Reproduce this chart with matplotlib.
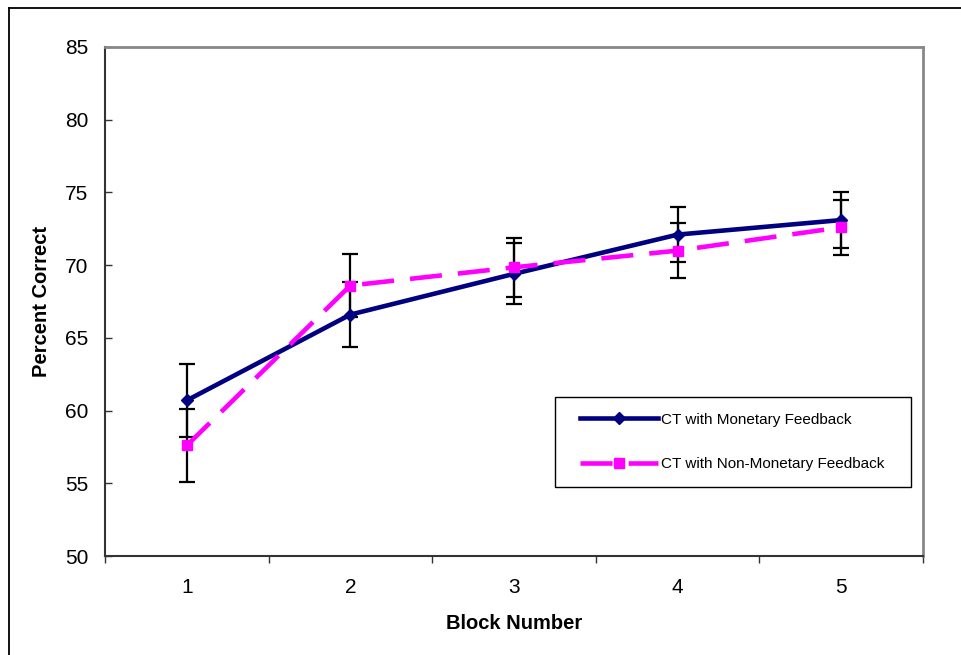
import matplotlib
matplotlib.use("Agg")
import matplotlib.pyplot as plt
from matplotlib.lines import Line2D
from matplotlib.patches import Rectangle

plt.rcParams['font.family'] = ['Liberation Sans', 'DejaVu Sans']

blocks = [1, 2, 3, 4, 5]
monetary = [60.7, 66.6, 69.4, 72.1, 73.1]
monetary_err = [2.5, 2.25, 2.1, 1.9, 1.95]
nonmonetary = [57.6, 68.6, 69.85, 71.0, 72.6]
nonmonetary_err = [2.5, 2.2, 2.05, 1.9, 1.9]
labels = ["CT with Monetary Feedback", "CT with Non-Monetary Feedback"]
yticks = [50, 55, 60, 65, 70, 75, 80, 85]

W, H = 962, 655
fig = plt.figure(figsize=(W/100, H/100), dpi=100)
ax = fig.add_axes([105/W, 1-556/H, (923-105)/W, (556-47)/H])

# error bars
ax.errorbar(blocks, monetary, yerr=monetary_err, fmt='none', ecolor='black',
            elinewidth=1.6, capsize=5.5, capthick=1.6, zorder=2)
ax.errorbar(blocks, nonmonetary, yerr=nonmonetary_err, fmt='none', ecolor='black',
            elinewidth=1.6, capsize=5.5, capthick=1.6, zorder=2)

ax.plot(blocks, monetary, color='#000080', lw=3.3, marker='D', ms=6.5,
        markeredgecolor='#000080', zorder=3)
ax.plot(blocks, nonmonetary, color='#FF00FF', lw=3.3, marker='s', ms=6.5,
        markeredgecolor='#FF00FF', dashes=(7, 3.5), zorder=4)

ax.set_xlim(0.5, 5.5)
ax.set_ylim(50, 85)
ax.set_yticks(yticks)
ax.set_xticks(blocks)
ax.set_xticks([0.5, 1.5, 2.5, 3.5, 4.5, 5.5], minor=True)
ax.tick_params(axis='x', which='major', length=0, pad=16, labelsize=15)
ax.tick_params(axis='x', which='minor', length=5, width=1, direction='out', color='#333333')
ax.tick_params(axis='y', which='major', length=5, width=1, direction='in', pad=12,
               labelsize=15, color='#333333')

for s in ['left', 'bottom']:
    ax.spines[s].set_color('#333333')
    ax.spines[s].set_linewidth(1.5)
for s in ['top', 'right']:
    ax.spines[s].set_color('#888888')
    ax.spines[s].set_linewidth(2)

ax.set_xlabel("Block Number", fontsize=14.5, fontweight='bold', labelpad=12)
ax.set_ylabel("Percent Correct", fontsize=14.5, fontweight='bold', labelpad=10)

# legend box
def ax_x(px):
    return (px - 105) / (923 - 105)

def ax_y(py):
    return (556 - py) / (556 - 47)

box = Rectangle((ax_x(555), ax_y(487)), ax_x(911) - ax_x(555), ax_y(397) - ax_y(487),
                transform=ax.transAxes, facecolor='white', edgecolor='black',
                lw=1.0, zorder=5)
ax.add_patch(box)

handles = [
    Line2D([], [], color='#000080', lw=3.3, marker='D', ms=6.5),
    Line2D([], [], color='#FF00FF', lw=3.3, marker='s', ms=6.5, dashes=(7, 3.5)),
]
leg = ax.legend(handles, labels, loc='center left',
                bbox_to_anchor=(ax_x(580), ax_y(442)),
                fontsize=11, frameon=False,
                handlelength=5.1, handletextpad=0.2, labelspacing=2.0,
                borderpad=0, borderaxespad=0)
leg.set_zorder(6)

# outer chart border (top and left visible)
fig.add_artist(Line2D([9/W, 9/W], [0, 1-8/H], color='black', lw=1.3,
                      transform=fig.transFigure))
fig.add_artist(Line2D([9/W, 1], [1-8/H, 1-8/H], color='black', lw=1.3,
                      transform=fig.transFigure))

fig.savefig("out.png", dpi=100)
